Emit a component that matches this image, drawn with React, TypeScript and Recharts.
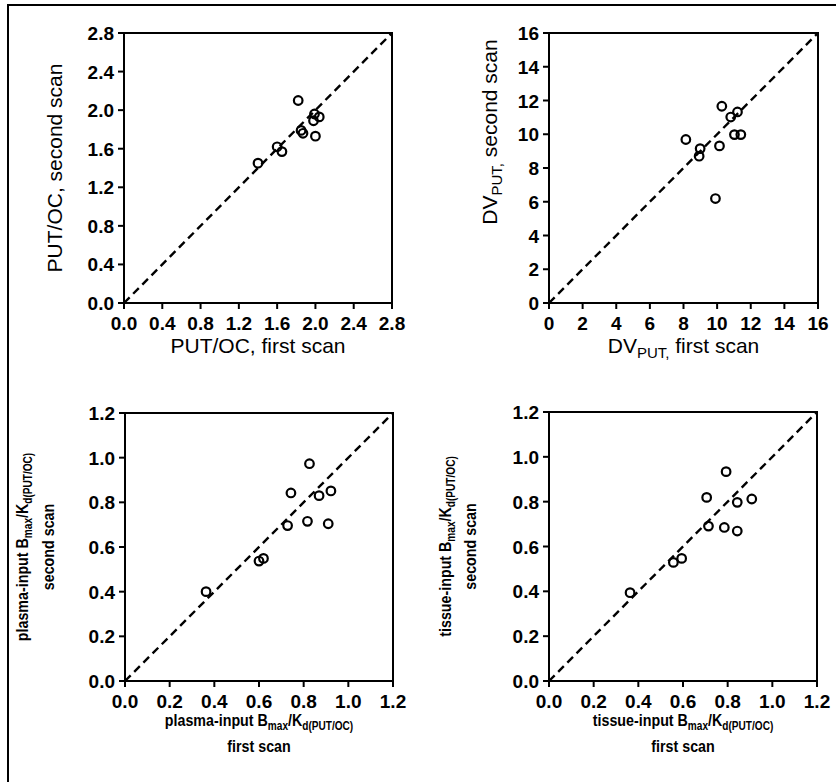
import React from 'react'
import { ScatterChart, Scatter, XAxis, YAxis, ReferenceLine, Label } from 'recharts'

// PUT/OC ratio, scan 1 vs scan 2
const putocFirst = [1.4, 1.6, 1.65, 1.82, 1.85, 1.87, 2.0, 1.98, 1.99, 2.04]
const putocSecond = [1.45, 1.62, 1.57, 2.1, 1.79, 1.76, 1.73, 1.89, 1.96, 1.93]
const putocTicks = [0, 0.4, 0.8, 1.2, 1.6, 2.0, 2.4, 2.8]

// DV PUT
const dvFirst = [8.14, 8.99, 8.93, 9.9, 10.14, 10.28, 10.81, 11.21, 11.03, 11.41]
const dvSecond = [9.69, 9.15, 8.7, 6.19, 9.31, 11.66, 11.02, 11.32, 9.98, 9.98]
const dvTicks = [0, 2, 4, 6, 8, 10, 12, 14, 16]

// plasma-input Bmax/Kd
const plasmaFirst = [0.363, 0.6, 0.62, 0.728, 0.743, 0.817, 0.826, 0.869, 0.922, 0.91]
const plasmaSecond = [0.4, 0.537, 0.549, 0.696, 0.842, 0.715, 0.973, 0.83, 0.851, 0.704]

// tissue-input Bmax/Kd
const tissueFirst = [0.363, 0.557, 0.594, 0.706, 0.714, 0.793, 0.785, 0.843, 0.843, 0.908]
const tissueSecond = [0.394, 0.529, 0.547, 0.819, 0.691, 0.934, 0.685, 0.797, 0.669, 0.812]
const bmaxTicks = [0, 0.2, 0.4, 0.6, 0.8, 1.0, 1.2]

const FONT = '"Liberation Sans", Arial, sans-serif'
const W = 418
const H = 391
const YW = 100
const XH = 80
const TICK_FS = 19

type Piece = { t: string; sub?: boolean }
type Line = { pieces: Piece[]; off: number }

const toPoints = (xs: number[], ys: number[]) => xs.map((x, i) => ({ x, y: ys[i] }))

function Pieces({ pieces, size, subSize, shift }: { pieces: Piece[]; size: number; subSize: number; shift: number }) {
  let cur = 0
  return (
    <>
      {pieces.map((p, i) => {
        const target = p.sub ? shift : 0
        const dy = target - cur
        cur = target
        return (
          <tspan key={i} dy={dy} fontSize={p.sub ? subSize : size}>
            {p.t}
          </tspan>
        )
      })}
    </>
  )
}

function makeXTitle(lines: Line[], bold: boolean) {
  return (props: any) => {
    const vb = props.viewBox
    const cx = vb.x + vb.width / 2
    const size = bold ? 17 : 21
    const sub = bold ? 12 : 15
    return (
      <g>
        {lines.map((ln, i) => (
          <g key={i} transform={`translate(${cx},${vb.y + ln.off}) scale(${bold ? 0.84 : 1},1)`}>
            <text x={0} y={0} textAnchor="middle" fontFamily={FONT} fontWeight={bold ? 'bold' : 'normal'} fill="#000">
              <Pieces pieces={ln.pieces} size={size} subSize={sub} shift={bold ? 4 : 5} />
            </text>
          </g>
        ))}
      </g>
    )
  }
}

function makeYTitle(lines: Line[], bold: boolean, dCenter = 0) {
  return (props: any) => {
    const vb = props.viewBox
    const L = vb.x + vb.width
    const cy = vb.y + vb.height / 2 + dCenter
    const size = bold ? 17 : 21
    const sub = bold ? 12 : 15
    return (
      <g>
        {lines.map((ln, i) => (
          <g key={i} transform={`translate(${L - ln.off},${cy}) rotate(-90) scale(${bold ? 0.84 : 1},1)`}>
            <text x={0} y={0} textAnchor="middle" fontFamily={FONT} fontWeight={bold ? 'bold' : 'normal'} fill="#000">
              <Pieces pieces={ln.pieces} size={size} subSize={sub} shift={bold ? 4 : 5} />
            </text>
          </g>
        ))}
      </g>
    )
  }
}

const Ring = (p: any) => <circle cx={p.cx} cy={p.cy} r={4.3} fill="none" stroke="#000" strokeWidth={2.2} />

const makeTick = (fmt: (v: number) => string, axis: 'x' | 'y') => (p: any) => {
  const v = p.payload.value
  if (axis === 'x') {
    return (
      <text x={p.x} y={p.y + 13.5} textAnchor="middle" fontFamily={FONT} fontWeight="bold" fontSize={TICK_FS} fill="#000">
        {fmt(v)}
      </text>
    )
  }
  return (
    <text x={p.x} y={p.y + 7} textAnchor="end" fontFamily={FONT} fontWeight="bold" fontSize={TICK_FS} fill="#000">
      {fmt(v)}
    </text>
  )
}

type PanelProps = {
  left: number
  top: number
  L: number
  T: number
  PW: number
  PH: number
  xs: number[]
  ys: number[]
  ticks: number[]
  fmt: (v: number) => string
  xTitle: (p: any) => React.ReactNode
  yTitle: (p: any) => React.ReactNode
}

function Panel({ left, top, L, T, PW, PH, xs, ys, ticks, fmt, xTitle, yTitle }: PanelProps) {
  const max = ticks[ticks.length - 1]
  const domain: [number, number] = [0, max]
  const line = { stroke: '#000', strokeWidth: 2 }
  return (
    <div style={{ position: 'absolute', left, top, width: W, height: H }}>
      <ScatterChart
        width={W}
        height={H}
        margin={{ top: T, left: L - YW, right: W - L - PW, bottom: H - T - PH - XH }}
      >
        <XAxis
          type="number"
          dataKey="x"
          domain={domain}
          ticks={ticks}
          interval={0}
          height={XH}
          tickSize={6}
          tickMargin={7}
          tick={makeTick(fmt, 'x')}
          axisLine={line}
          tickLine={line}
          allowDataOverflow
        >
          <Label content={xTitle} />
        </XAxis>
        <YAxis
          type="number"
          dataKey="y"
          domain={domain}
          ticks={ticks}
          interval={0}
          width={YW}
          tickSize={6}
          tickMargin={4}
          tick={makeTick(fmt, 'y')}
          axisLine={line}
          tickLine={line}
          allowDataOverflow
        >
          <Label content={yTitle} />
        </YAxis>
        <ReferenceLine
          segment={[
            { x: 0, y: 0 },
            { x: max, y: max },
          ]}
          stroke="#000"
          strokeWidth={2.4}
          strokeDasharray="8 5"
        />
        <Scatter data={toPoints(xs, ys)} shape={Ring} isAnimationActive={false} />
      </ScatterChart>
      {/* top and right edges of the plot frame */}
      <div
        style={{
          position: 'absolute',
          left: L - 1,
          top: T - 1,
          width: PW,
          height: PH,
          borderTop: '2px solid #000',
          borderRight: '2px solid #000',
          pointerEvents: 'none',
          zIndex: 5,
        }}
      />
    </div>
  )
}

const f1 = (v: number) => v.toFixed(1)
const f0 = (v: number) => String(v)

const bmaxLine = (prefix: string): Piece[] => [
  { t: prefix + ' B' },
  { t: 'max', sub: true },
  { t: '/K' },
  { t: 'd(PUT/OC)', sub: true },
]

export default function App() {
  return (
    <div
      style={{
        position: 'absolute',
        left: 0,
        top: 0,
        width: 836,
        height: 782,
        overflow: 'hidden',
        background: '#fff',
      }}
    >
      <div
        style={{
          position: 'absolute',
          left: 7,
          top: 4,
          width: 900,
          height: 900,
          borderLeft: '2px solid #000',
          borderTop: '2px solid #000',
        }}
      />
      <Panel
        left={0}
        top={0}
        L={124}
        T={33}
        PW={268}
        PH={270}
        xs={putocFirst}
        ys={putocSecond}
        ticks={putocTicks}
        fmt={f1}
        xTitle={makeXTitle([{ pieces: [{ t: 'PUT/OC, first scan' }], off: 50 }], false)}
        yTitle={makeYTitle([{ pieces: [{ t: 'PUT/OC, second scan' }], off: 62 }], false)}
      />
      <Panel
        left={418}
        top={0}
        L={131}
        T={33}
        PW={269}
        PH={270}
        xs={dvFirst}
        ys={dvSecond}
        ticks={dvTicks}
        fmt={f0}
        xTitle={makeXTitle([{ pieces: [{ t: 'DV' }, { t: 'PUT,', sub: true }, { t: ' first scan' }], off: 50 }], false)}
        yTitle={makeYTitle(
          [{ pieces: [{ t: 'DV' }, { t: 'PUT,', sub: true }, { t: ' second scan' }], off: 52 }],
          false,
          -36
        )}
      />
      <Panel
        left={0}
        top={391}
        L={125}
        T={22}
        PW={268}
        PH={268}
        xs={plasmaFirst}
        ys={plasmaSecond}
        ticks={bmaxTicks}
        fmt={f1}
        xTitle={makeXTitle(
          [
            { pieces: bmaxLine('plasma-input'), off: 45 },
            { pieces: [{ t: 'first scan' }], off: 71 },
          ],
          true
        )}
        yTitle={makeYTitle(
          [
            { pieces: bmaxLine('plasma-input'), off: 97 },
            { pieces: [{ t: 'second scan' }], off: 71 },
          ],
          true
        )}
      />
      <Panel
        left={418}
        top={391}
        L={131}
        T={21}
        PW={268}
        PH={269}
        xs={tissueFirst}
        ys={tissueSecond}
        ticks={bmaxTicks}
        fmt={f1}
        xTitle={makeXTitle(
          [
            { pieces: bmaxLine('tissue-input'), off: 45 },
            { pieces: [{ t: 'first scan' }], off: 71 },
          ],
          true
        )}
        yTitle={makeYTitle(
          [
            { pieces: bmaxLine('tissue-input'), off: 98 },
            { pieces: [{ t: 'second scan' }], off: 73 },
          ],
          true
        )}
      />
    </div>
  )
}
